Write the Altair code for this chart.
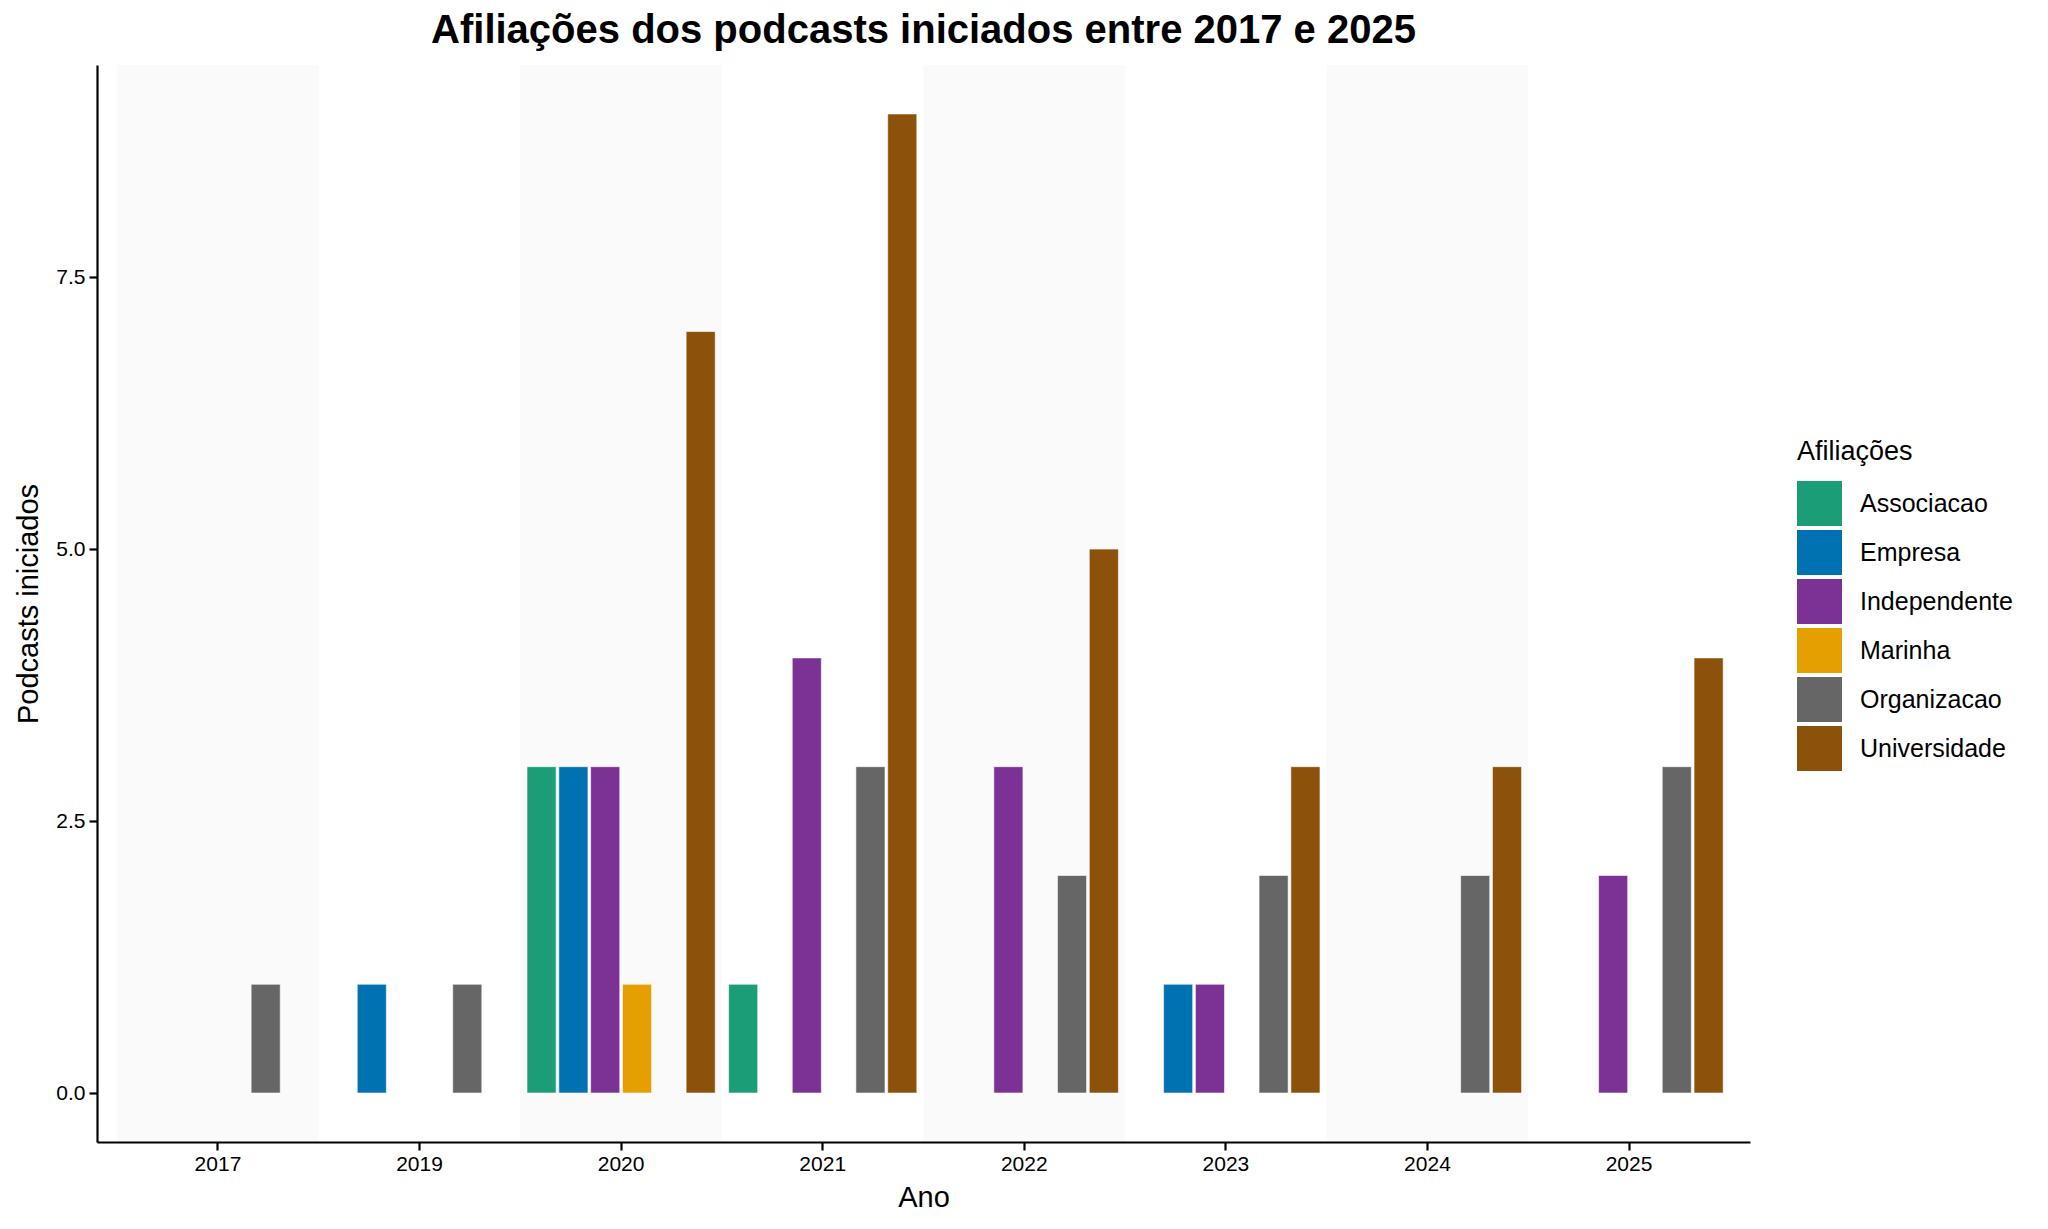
import altair as alt
import pandas as pd

# ---- data ----
anos = ["2017", "2019", "2020", "2021", "2022", "2023", "2024", "2025"]
afiliacoes = ["Associacao", "Empresa", "Independente", "Marinha", "Organizacao", "Universidade"]
cores = ["#1B9E77", "#0072B2", "#7B3294", "#E69F00", "#666666", "#8C510A"]

ano_col = ["2017",
           "2019", "2019",
           "2020", "2020", "2020", "2020", "2020",
           "2021", "2021", "2021", "2021",
           "2022", "2022", "2022",
           "2023", "2023", "2023", "2023",
           "2024", "2024",
           "2025", "2025", "2025"]
afil_col = ["Organizacao",
            "Empresa", "Organizacao",
            "Associacao", "Empresa", "Independente", "Marinha", "Universidade",
            "Associacao", "Independente", "Organizacao", "Universidade",
            "Independente", "Organizacao", "Universidade",
            "Empresa", "Independente", "Organizacao", "Universidade",
            "Organizacao", "Universidade",
            "Independente", "Organizacao", "Universidade"]
contagem = [1,
            1, 1,
            3, 3, 3, 1, 7,
            1, 4, 3, 9,
            3, 2, 5,
            1, 1, 2, 3,
            2, 3,
            2, 3, 4]

df = pd.DataFrame({"Ano": ano_col, "Afiliacao": afil_col, "n": contagem})
bandas = pd.DataFrame({"Ano": anos[::2]})

W, H = 1653, 1077
FONT = "Liberation Sans"

xscale = alt.Scale(domain=anos, paddingInner=0, paddingOuter=0.1)

fundo = alt.Chart(bandas).mark_rect(color="#FAFAFA").encode(
    x=alt.X("Ano:N", scale=xscale),
    y=alt.value(0),
    y2=alt.value(H),
)

barras = alt.Chart(df).mark_bar(stroke="white", strokeWidth=0.6).encode(
    x=alt.X("Ano:N", scale=xscale,
            axis=alt.Axis(title="Ano", labelAngle=0, labelAlign="center",
                          labelBaseline="top", labelPadding=3, titlePadding=9)),
    xOffset=alt.XOffset("Afiliacao:N",
                        scale=alt.Scale(domain=afiliacoes, paddingInner=0.085, paddingOuter=0.21)),
    y=alt.Y("n:Q", scale=alt.Scale(domain=[-0.45, 9.45], nice=False, zero=False),
            axis=alt.Axis(title="Podcasts iniciados", values=[0, 2.5, 5, 7.5], format=".1f",
                          titlePadding=12)),
    y2=alt.datum(0),
    color=alt.Color("Afiliacao:N",
                    scale=alt.Scale(domain=afiliacoes, range=cores),
                    legend=alt.Legend(title="Afiliações", orient="none",
                                      legendX=1700, legendY=374,
                                      symbolType="square", symbolSize=2025,
                                      symbolStrokeWidth=0,
                                      rowPadding=4, labelOffset=18, titlePadding=15,
                                      titleFontSize=27, titleFontWeight="normal",
                                      labelFontSize=25, titleFont=FONT, labelFont=FONT,
                                      titleColor="black", labelColor="black")),
)

chart = alt.layer(fundo, barras).properties(
    width=W, height=H,
    title=alt.TitleParams("Afiliações dos podcasts iniciados entre 2017 e 2025",
                          fontSize=40, fontWeight="bold", font=FONT, color="black",
                          anchor="middle", frame="group", offset=14),
    autosize=alt.AutoSizeParams(type="none"),
    padding={"left": 89, "top": 57, "right": 270, "bottom": 79},
).configure_view(stroke=None).configure_axis(
    grid=False,
    domainColor="black", domainWidth=2.2,
    tickColor="black", tickWidth=2.2, tickSize=8,
    labelColor="black", labelFontSize=21, labelFont=FONT, labelPadding=4,
    titleColor="black", titleFontSize=29, titleFont=FONT, titleFontWeight="normal",
)

chart.save("out.html", embed_options={"renderer": "svg", "actions": False})
